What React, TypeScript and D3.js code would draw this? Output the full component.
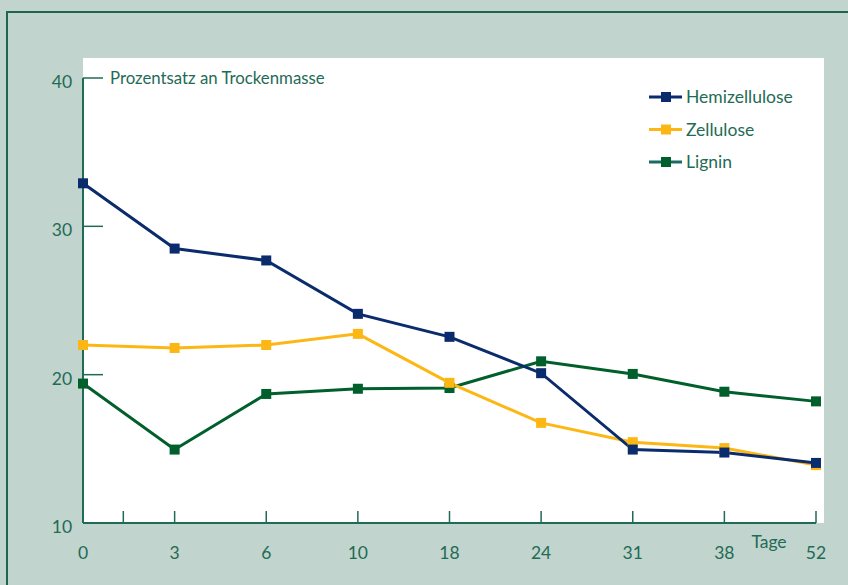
import React, { useEffect, useRef } from "react";
import * as d3 from "d3";

const days = ["0", "3", "6", "10", "18", "24", "31", "38", "52"];
const hemizellulose = [32.9, 28.5, 27.7, 24.1, 22.55, 20.1, 14.95, 14.75, 14.05];
const zellulose = [22.0, 21.8, 22.0, 22.75, 19.45, 16.75, 15.45, 15.05, 13.9];
const lignin = [19.4, 14.95, 18.7, 19.05, 19.1, 20.9, 20.05, 18.85, 18.2];
const yTicks = [10, 20, 30, 40];
const extraTick = 0.44; // odd little tick between 0 and 3

const seriesNames = ["Hemizellulose", "Zellulose", "Lignin"];
const seriesColors = ["#0b2c6c", "#fdb714", "#005f2b"];
const legendLineColors = ["#0b2c6c", "#fdb714", "#1a6b62"];

const textColor = "#1f6b55";
const font = "Lato, 'Open Sans', sans-serif";

const App: React.FC = () => {
  const svgRef = useRef<SVGSVGElement | null>(null);

  useEffect(() => {
    if (!svgRef.current) return;
    const svg = d3.select(svgRef.current);
    svg.selectAll("*").remove();

    const width = 848;
    const height = 585;

    svg.append("rect").attr("width", width).attr("height", height).attr("fill", "#c1d4cd");
    // frame top + left
    svg
      .append("path")
      .attr("d", `M7,${height} V12 H${width}`)
      .attr("fill", "none")
      .attr("stroke", "#1f6650")
      .attr("stroke-width", 2);

    const left = 83;
    const right = 816;
    const top = 58;
    const bottom = 523;

    svg
      .append("rect")
      .attr("x", left)
      .attr("y", top)
      .attr("width", 824 - left)
      .attr("height", bottom - top)
      .attr("fill", "#fff");

    const x = d3.scaleLinear().domain([0, days.length - 1]).range([left, right]);
    const y = d3.scaleLinear().domain([10, 40]).range([bottom, 78]);

    const axisColor = "#1f6b55";
    // y axis
    svg
      .append("line")
      .attr("x1", left)
      .attr("x2", left)
      .attr("y1", y(40))
      .attr("y2", bottom)
      .attr("stroke", axisColor)
      .attr("stroke-width", 2);
    svg
      .append("line")
      .attr("x1", left)
      .attr("x2", right)
      .attr("y1", bottom)
      .attr("y2", bottom)
      .attr("stroke", axisColor)
      .attr("stroke-width", 2);

    yTicks.forEach((t) => {
      if (t > 10) {
        svg
          .append("line")
          .attr("x1", left)
          .attr("x2", left + 20)
          .attr("y1", y(t))
          .attr("y2", y(t))
          .attr("stroke", axisColor)
          .attr("stroke-width", 1.5);
      }
      svg
        .append("text")
        .attr("x", 62)
        .attr("y", y(t) + 10)
        .attr("text-anchor", "middle")
        .attr("font-family", font)
        .attr("font-size", 17.5)
        .attr("fill", textColor)
        .text(t);
    });

    const xTickPos = [extraTick, ...days.map((_, i) => i).slice(1)];
    xTickPos.forEach((p) => {
      svg
        .append("line")
        .attr("x1", x(p))
        .attr("x2", x(p))
        .attr("y1", bottom)
        .attr("y2", bottom - 12)
        .attr("stroke", axisColor)
        .attr("stroke-width", 1.5);
    });

    days.forEach((d, i) => {
      svg
        .append("text")
        .attr("x", x(i))
        .attr("y", 559)
        .attr("text-anchor", "middle")
        .attr("font-family", font)
        .attr("font-size", 17.5)
        .attr("fill", textColor)
        .text(d);
    });

    svg
      .append("text")
      .attr("x", 769)
      .attr("y", 548)
      .attr("text-anchor", "middle")
      .attr("font-family", font)
      .attr("font-size", 17.5)
      .attr("fill", textColor)
      .text("Tage");

    svg
      .append("text")
      .attr("x", 110)
      .attr("y", 84)
      .attr("font-family", font)
      .attr("font-size", 16.8)
      .attr("fill", textColor)
      .text("Prozentsatz an Trockenmasse");

    const allSeries = [hemizellulose, zellulose, lignin];
    const line = d3
      .line<number>()
      .x((_, i) => x(i))
      .y((v) => y(v));

    // draw lignin first, then zellulose, hemi on top
    [2, 1, 0].forEach((si) => {
      const vals = allSeries[si];
      svg
        .append("path")
        .attr("d", line(vals) || "")
        .attr("fill", "none")
        .attr("stroke", seriesColors[si])
        .attr("stroke-width", 3);
    });
    [2, 1, 0].forEach((si) => {
      const vals = allSeries[si];
      svg
        .append("g")
        .selectAll("rect")
        .data(vals)
        .enter()
        .append("rect")
        .attr("x", (_, i) => x(i) - 5)
        .attr("y", (v) => y(v) - 5)
        .attr("width", 10)
        .attr("height", 10)
        .attr("fill", seriesColors[si]);
    });

    // legend
    seriesNames.forEach((name, i) => {
      const ly = 97 + i * 32.5;
      svg
        .append("line")
        .attr("x1", 649)
        .attr("x2", 682)
        .attr("y1", ly)
        .attr("y2", ly)
        .attr("stroke", legendLineColors[i])
        .attr("stroke-width", 3);
      svg
        .append("rect")
        .attr("x", 661)
        .attr("y", ly - 5)
        .attr("width", 10)
        .attr("height", 10)
        .attr("fill", seriesColors[i]);
      svg
        .append("text")
        .attr("x", 686)
        .attr("y", ly + 6)
        .attr("font-family", font)
        .attr("font-size", 17.5)
        .attr("fill", textColor)
        .text(name);
    });
  }, []);

  return <svg ref={svgRef} width={848} height={585} style={{ display: "block", position: "absolute", left: 0, top: 0 }}></svg>;
};

export default App;
